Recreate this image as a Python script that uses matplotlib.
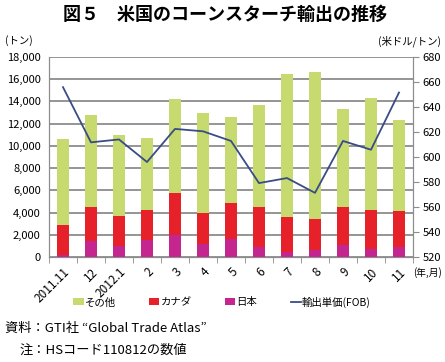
import matplotlib
matplotlib.use("Agg")
import matplotlib.pyplot as plt
import numpy as np

plt.rcParams['font.family'] = ['Noto Sans CJK JP', 'DejaVu Sans']

# データ (トン, 米ドル/トン)
months = ["2011.11", "12", "2012.1", "2", "3", "4", "5", "6", "7", "8", "9", "10", "11"]
total = [10620, 12750, 10950, 10700, 14180, 12990, 12570, 13700, 16470, 16650, 13350, 14280, 12360]
canada_top = [2930, 4500, 3720, 4200, 5760, 4000, 4830, 4470, 3650, 3420, 4530, 4230, 4170]
japan = [180, 1500, 990, 1560, 2000, 1220, 1650, 950, 500, 680, 1100, 780, 930]
price = [655.7, 611.7, 614.0, 596.0, 622.4, 620.5, 612.8, 579.2, 583.2, 571.4, 612.8, 605.8, 651.4]

japan = np.array(japan)
canada = np.array(canada_top) - japan
other = np.array(total) - np.array(canada_top)

c_other = "#C6DA6F"
c_canada = "#E62129"
c_japan = "#C4258F"
c_line = "#3A4C85"
grid_c = "#8C8C8C"

fig = plt.figure(figsize=(4.45, 3.62), dpi=100)
ax = fig.add_axes([49/445, 1-257.3/362, 364/445, 200.6/362])
x = np.arange(len(months))
w = 0.43

b3 = ax.bar(x, japan, w, color=c_japan, label="日本", zorder=3)
b2 = ax.bar(x, canada, w, bottom=japan, color=c_canada, label="カナダ", zorder=3)
b1 = ax.bar(x, other, w, bottom=japan + canada, color=c_other, label="その他", zorder=3)

ax.set_xlim(-0.5, len(months) - 0.5)
ax.set_ylim(0, 18000)
ax.set_yticks(np.arange(0, 18001, 2000))
ax.set_yticklabels([f"{v:,}" for v in range(0, 18001, 2000)])
ax.yaxis.grid(True, color=grid_c, lw=1.3, zorder=0)
ax.set_axisbelow(True)
ax.tick_params(axis="y", length=0, labelsize=8, pad=6)

ax.set_xticks(x)
ax.set_xticklabels(months, rotation=45, ha="right", rotation_mode="anchor", fontsize=8.5)
ax.set_xticks(np.arange(-0.5, len(months), 1), minor=True)
ax.tick_params(axis="x", which="major", length=0, pad=6)
ax.tick_params(axis="x", which="minor", length=4, color=grid_c)

ax.spines["top"].set_visible(False)
for s in ["left", "right", "bottom"]:
    ax.spines[s].set_color(grid_c)

ax2 = ax.twinx()
ln, = ax2.plot(x, price, color=c_line, lw=1.3, label="輸出単価(FOB)", zorder=4)
ax2.set_ylim(520, 680)
ax2.set_yticks(np.arange(520, 681, 20))
ax2.tick_params(axis="y", length=4, color=grid_c, labelsize=8, pad=3)
ax2.spines["top"].set_visible(False)
for s in ["left", "right", "bottom"]:
    ax2.spines[s].set_color(grid_c)

fig.text(225/445, 1-14/362, "図５　米国のコーンスターチ輸出の推移", ha="center", va="center",
         fontsize=13, fontweight="bold")
fig.text(5/445, 1-41/362, "(トン)", ha="left", va="center", fontsize=7.5)
fig.text(441/445, 1-41/362, "(米ドル/トン)", ha="right", va="center", fontsize=7.5)
fig.text(442/445, 1-273/362, "(年,月)", ha="right", va="center", fontsize=7)

fig.legend(handles=[b1, b2, b3, ln], loc="center", bbox_to_anchor=(222/445, 1-302/362),
           ncol=4, frameon=False, fontsize=7.5, handlelength=1.0, handleheight=0.7,
           handletextpad=0.1, columnspacing=3.2)

fig.text(5/445, 1-328/362, "資料：GTI社 “Global Trade Atlas”", ha="left", va="center", fontsize=9.5)
fig.text(20/445, 1-350/362, "注：HSコード110812の数値", ha="left", va="center", fontsize=9.5)

fig.savefig("out.png", dpi=100)
